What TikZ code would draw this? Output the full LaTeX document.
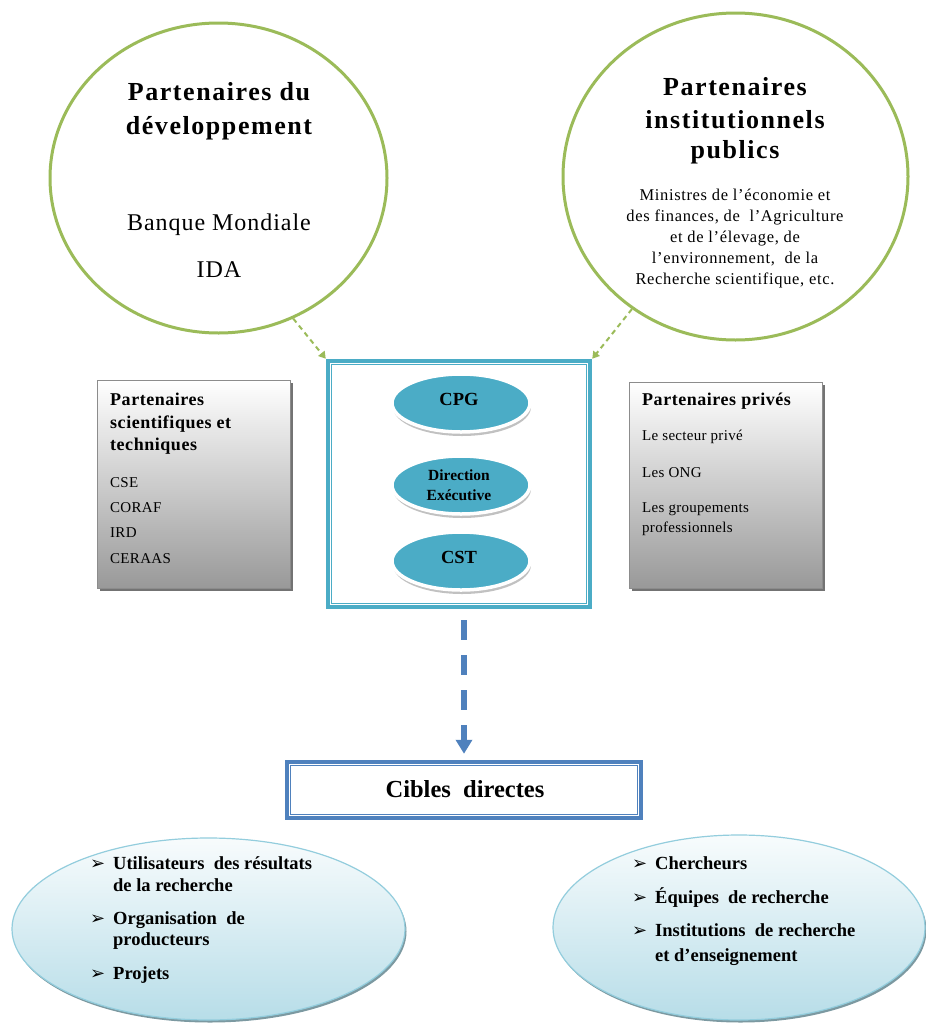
\documentclass[tikz,border=0pt]{standalone}
\usepackage{fontspec}
\setmainfont{Liberation Serif}
\newfontfamily\dejavu{DejaVu Sans}
\usetikzlibrary{shapes.geometric,shadows,arrows.meta}
\definecolor{grn}{HTML}{9BBB59}
\definecolor{aqua}{HTML}{4BACC6}
\definecolor{blu}{HTML}{4F81BD}
\definecolor{lblu}{HTML}{B7DDE8}
\newcommand\setsz[1]{\fontsize{#1}{#1}\selectfont}
\newcommand\lsp[1]{\addfontfeatures{LetterSpace=#1}}
\newcommand\mybul{{\dejavu\fontsize{18}{18}\selectfont ➢}}
\begin{document}
\begin{tikzpicture}[x=1pt,y=-1pt,
  bigcirc/.style={ellipse, draw=grn, line width=3pt, inner sep=0},
  corebox/.style={rectangle, draw=aqua, line width=4.5pt, fill=white, inner sep=0},
  cibbox/.style={rectangle, draw=blu, line width=4.5pt, fill=white, inner sep=0},
  innerell/.style={ellipse, fill=aqua, draw=white, line width=3.5pt, inner sep=0,
     minimum width=138, minimum height=58,
     drop shadow={shadow xshift=1pt, shadow yshift=-4pt, fill=black!30, opacity=.8}},
  graybox/.style={rectangle, draw=black!45, line width=1pt, inner sep=0,
     top color=white, bottom color=black!40,
     drop shadow={shadow xshift=3pt, shadow yshift=-3pt, fill=black!55, opacity=1}},
  bottell/.style={ellipse, draw=aqua!60, line width=1.2pt, inner sep=0,
     top color=aqua!4, bottom color=lblu,
     drop shadow={shadow xshift=1.5pt, shadow yshift=-2.5pt, fill=aqua!50!black, opacity=.6}},
  garrow/.style={grn, line width=2pt, dash pattern=on 5pt off 4pt, -{Triangle[width=8pt,length=7pt]}},
  barrow/.style={blu, line width=6pt, dash pattern=on 20pt off 15pt, -{Triangle[width=16pt,length=14pt]}},
  ctr/.style={inner sep=0, anchor=base},
  lft/.style={inner sep=0, anchor=base west},
  ttl/.style={font=\bfseries\setsz{26}\lsp{6}},
  sub/.style={font=\setsz{24}\lsp{4}},
  small/.style={font=\setsz{16.5}\lsp{4}},
  bxh/.style={font=\bfseries\setsz{18}\lsp{3}},
  bxt/.style={font=\setsz{15}\lsp{2}},
  bul/.style={font=\bfseries\setsz{18.5}}
]
\fill[white] (0,0) rectangle (926,1023);
\useasboundingbox (0,0) rectangle (926,1023);

% top circles
\node[bigcirc, minimum width=337, minimum height=310] (pdev) at (218.5,178) {};
\node[bigcirc, minimum width=345, minimum height=327] (pinst) at (735.5,176.5) {};

\node[ctr,ttl] (pdev1) at (219,100) {Partenaires du};
\node[ctr,ttl] (pdev2) at (219,134) {développement};
\node[ctr,sub] (pdev3) at (219,230) {Banque Mondiale};
\node[ctr,sub] (pdev4) at (219,277) {IDA};

\node[ctr,ttl] (pin1) at (735,95) {Partenaires};
\node[ctr,ttl] (pin2) at (735,128) {institutionnels};
\node[ctr,ttl] (pin3) at (735,158) {publics};
\node[ctr,small] (pin4) at (735,200) {Ministres de l’économie et};
\node[ctr,small] (pin5) at (735,221) {des finances, de \ l’Agriculture};
\node[ctr,small] (pin6) at (735,242) {et de l’élevage, de};
\node[ctr,small] (pin7) at (735,263) {l’environnement, \ de la};
\node[ctr,small] (pin8) at (735,284) {Recherche scientifique, etc.};

% side gray boxes
\node[graybox, minimum width=193, minimum height=208] (psci) at (193.5,484) {};
\node[graybox, minimum width=193, minimum height=206] (ppriv) at (725.5,485) {};

\node[lft,bxh] (ps1) at (110,405) {Partenaires};
\node[lft,bxh] (ps2) at (110,428) {scientifiques et};
\node[lft,bxh] (ps3) at (110,450) {techniques};
\node[lft,bxt] (ps4) at (110,487) {CSE};
\node[lft,bxt] (ps5) at (110,512) {CORAF};
\node[lft,bxt] (ps6) at (110,537) {IRD};
\node[lft,bxt] (ps7) at (110,563) {CERAAS};

\node[lft,bxh] (pp1) at (642,405) {Partenaires privés};
\node[lft,bxt] (pp2) at (642,440) {Le secteur privé};
\node[lft,bxt] (pp3) at (642,477) {Les ONG};
\node[lft,bxt] (pp4) at (642,512) {Les groupements};
\node[lft,bxt] (pp5) at (642,532) {professionnels};

% central box
\node[corebox, minimum width=262, minimum height=246] (core) at (459,484) {};
\draw[aqua, line width=1.3pt] ([shift={(5.5,5.5)}]core.north west) rectangle ([shift={(-5.5,-5.5)}]core.south east);

\node[innerell] (cpg) at (461,403) {};
\node[innerell] (dex) at (461,485) {};
\node[innerell] (cst) at (461,561) {};
\node[ctr, font=\bfseries\setsz{18.5}] (cpgT) at (459,405) {CPG};
\node[ctr, font=\bfseries\setsz{15.5}] (dexT1) at (459,480) {Direction};
\node[ctr, font=\bfseries\setsz{15.5}] (dexT2) at (459,500) {Exécutive};
\node[ctr, font=\bfseries\setsz{18.5}] (cstT) at (459,563) {CST};

% green arrows
\draw[garrow] (pdev.-62) -- (core.north west);
\draw[garrow] (pinst.-128) -- (core.north east);

% cibles
\node[cibbox, minimum width=354, minimum height=56] (cibles) at (464,790) {};
\draw[blu, line width=1.3pt] ([shift={(5.5,5.5)}]cibles.north west) rectangle ([shift={(-5.5,-5.5)}]cibles.south east);
\node[ctr, font=\bfseries\setsz{24.5}] (cibT) at (465,797) {Cibles \ directes};

\path (core.south -| cibles.north) coordinate (a0);
\draw[barrow] ([yshift=-11pt]a0) -- ([yshift=6pt]cibles.north);

% bottom ellipses
\node[bottell, minimum width=393, minimum height=182] (bl) at (208.5,929) {};
\node[bottell, minimum width=372, minimum height=185] (br) at (739,927.5) {};

\node[lft] (bl1b) at (90,869) {\mybul};
\node[lft,bul] (bl1) at (113,869) {Utilisateurs \ des résultats};
\node[lft,bul] (bl2) at (113,891) {de la recherche};
\node[lft] (bl3b) at (90,924) {\mybul};
\node[lft,bul] (bl3) at (113,924) {Organisation \ de};
\node[lft,bul] (bl4) at (113,945) {producteurs};
\node[lft] (bl5b) at (90,979) {\mybul};
\node[lft,bul] (bl5) at (113,979) {Projets};

\node[lft] (br1b) at (632,869) {\mybul};
\node[lft,bul] (br1) at (655,869) {Chercheurs};
\node[lft] (br2b) at (632,903) {\mybul};
\node[lft,bul] (br2) at (655,903) {Équipes \ de recherche};
\node[lft] (br3b) at (632,936) {\mybul};
\node[lft,bul] (br3) at (655,936) {Institutions \ de recherche};
\node[lft,bul] (br4) at (655,961) {et d’enseignement};
\end{tikzpicture}
\end{document}
